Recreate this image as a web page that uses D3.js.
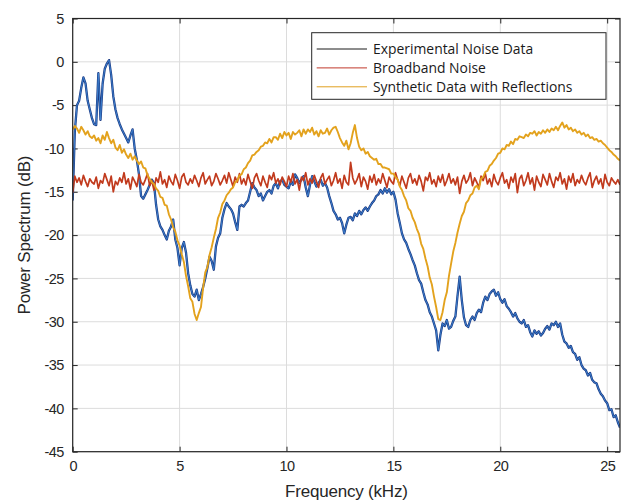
<!DOCTYPE html>
<html>
<head>
<meta charset="utf-8">
<script src="https://cdn.jsdelivr.net/npm/d3@7"></script>
<style>
  body { margin: 0; background: #fff; }
  .axis text { font-family: "Liberation Sans", Arial, sans-serif; font-size: 14.5px; fill: #262626; letter-spacing: -0.6px; }
  .axis line { stroke: #262626; }
  .grid line { stroke: #dcdcdc; stroke-width: 1; }
  .title { font-family: "Liberation Sans", Arial, sans-serif; font-size: 17px; fill: #262626; letter-spacing: -0.2px; }
  .legend text { font-family: "Open Sans", sans-serif; font-size: 13.9px; fill: #1a1a1a; }
</style>
</head>
<body>
<div id="wrapper"></div>
<script>
// spectra sampled every 0.1 kHz, values in dB
const freqStep = 0.1;

const experimental = [
  -16, -8, -5, -4.5, -3, -1.8, -2.5, -4.5, -5.5, -6.5,
  -7.2, -7.3, -1.3, -6.7, -2.5, -0.8, -0.2, 0.2, -1.5, -4,
  -5.5, -6.5, -7.2, -7.8, -8.3, -8.8, -9.3, -8.5, -7.8, -10,
  -11.3, -13, -15.5, -15.8, -15.3, -14.8, -14.2, -13.6, -14, -16.5,
  -18.2, -19, -19.4, -20, -20.5, -19.5, -19, -18.2, -20.5, -21.5,
  -23.5, -21.5, -20.8, -22, -24.4, -25.8, -26.8, -27.1, -26.3, -27.5,
  -26.8, -26, -25, -23.8, -22.5, -23, -24, -21.3, -20.3, -19.8,
  -18, -17, -16.3, -16.7, -17, -17.5, -18.5, -19.4, -16.7, -16.5,
  -16.7, -16.3, -16, -15, -14, -14.5, -14.8, -15.5, -15.2, -16,
  -15.5, -15, -14.8, -15.2, -14.3, -14, -14.6, -13.8, -13.6, -14.2,
  -14.4, -14.6, -13.8, -14.2, -13, -13.4, -14, -13.6, -13.2, -14.5,
  -15.5, -14.2, -13.2, -13.8, -14.4, -14, -13.6, -14.3, -14, -14.5,
  -15.5, -16.3, -17.2, -17.6, -18.2, -18, -18.6, -19.8, -18.8, -18,
  -17.9, -18.3, -17.5, -17.8, -17.2, -17.6, -17.1, -16.8, -17.2, -16.7,
  -16.3, -16, -15.5, -15.3, -14.8, -15.2, -14.6, -15.1, -14.7, -15.3,
  -15, -15.9, -17.5, -18.6, -19.8, -20.5, -20.9, -21.6, -22.2, -22.9,
  -23.5, -24.4, -25.2, -25.6, -26.6, -27.5, -28, -28.9, -29.4, -30.2,
  -31, -33.3, -31.5, -30.2, -30.5, -29.8, -30.8, -30.6, -29.9, -29.4,
  -27, -24.8, -27.5, -29.5, -30.4, -30.6, -29.8, -29.4, -29.8, -29,
  -28.6, -28.9, -27.8, -27.1, -27.5, -26.8, -26.5, -26.3, -27, -26.6,
  -27.4, -27.8, -27.4, -28.2, -28.5, -28.9, -29.4, -29, -29.6, -30,
  -30.2, -29.8, -30.6, -30.4, -31.2, -31.7, -31, -31.4, -31.1, -31.6,
  -31.3, -30.8, -30.5, -30.9, -30.2, -30.4, -30, -30.6, -30.2, -31.5,
  -32.3, -32.5, -33, -32.8, -33.5, -33.7, -34.4, -34.1, -35, -35.4,
  -35.6, -36.2, -35.9, -36.7, -37, -37.1, -37.8, -38.3, -38.6, -39.1,
  -39.4, -40.2, -40.1, -41, -40.8, -41.6, -42.2
];

const broadband = [
  -15.1, -13.2, -13.9, -13.4, -14.2, -13.1, -13.8, -14.4, -13.5, -13.9,
  -14.1, -13.3, -14.6, -13.7, -14.0, -12.9, -13.6, -14.3, -13.2, -15.0,
  -13.8, -14.2, -13.4, -13.9, -12.8, -14.1, -13.5, -14.7, -13.3, -13.8,
  -14.4, -13.0, -13.9, -14.2, -13.6, -12.9, -14.3, -13.7, -14.8, -13.4,
  -13.9, -12.7, -14.1, -13.6, -14.5, -13.2, -13.8, -14.2, -13.0, -13.7,
  -14.6, -13.3, -12.9, -13.9, -14.2, -13.5, -14.0, -13.1, -13.7, -14.4,
  -13.4, -12.8, -14.1, -13.6, -13.2, -14.3, -13.8, -12.9, -13.5, -14.2,
  -13.7, -13.1, -14.0, -12.8, -13.6, -14.4, -13.3, -13.9, -12.9, -14.1,
  -13.5, -14.2, -13.0, -13.8, -14.6, -13.4, -12.9, -13.7, -14.3, -13.2,
  -13.9, -14.5, -13.1, -13.6, -12.8, -14.0, -13.5, -14.2, -13.3, -13.8,
  -14.4, -13.2, -13.9, -12.9, -14.1, -13.6, -14.8, -13.3, -13.7, -12.8,
  -14.2, -13.5, -14.0, -13.1, -13.8, -14.5, -13.4, -12.9, -14.1, -13.6,
  -13.2, -14.3, -13.7, -12.8, -14.0, -13.5, -14.6, -13.1, -13.9, -14.2,
  -11.6, -13.4, -14.1, -13.6, -12.9, -14.4, -13.3, -13.8, -14.7, -13.2,
  -13.9, -13.0, -14.2, -13.5, -14.0, -12.9, -13.7, -14.5, -13.3, -13.8,
  -14.1, -12.8, -13.6, -14.3, -13.2, -13.9, -14.6, -13.4, -12.9, -14.0,
  -13.5, -14.2, -13.1, -13.8, -14.9, -13.3, -13.7, -12.8, -14.1, -13.6,
  -14.4, -13.2, -13.9, -13.0, -14.3, -13.7, -12.9, -14.0, -13.5, -14.2,
  -13.3, -15.2, -13.8, -13.1, -14.0, -13.6, -12.8, -14.3, -13.4, -13.9,
  -14.5, -13.2, -13.7, -12.9, -14.1, -13.5, -14.4, -13.0, -13.8, -14.2,
  -13.4, -12.8, -14.0, -13.6, -14.6, -13.3, -13.9, -12.9, -15.1, -13.5,
  -13.1, -14.3, -13.7, -12.8, -14.1, -13.4, -14.8, -13.2, -13.9, -14.4,
  -13.0, -13.6, -14.2, -12.9, -13.8, -14.5, -13.3, -13.7, -12.8, -14.1,
  -13.5, -14.7, -13.2, -13.9, -12.9, -14.3, -13.6, -14.0, -13.1, -13.8,
  -14.2, -13.4, -12.8, -14.5, -13.7, -13.2, -14.1, -13.5, -14.6, -13.0,
  -13.9, -14.3, -13.4, -13.8, -14.1, -13.6, -14.2
];

const synthetic = [
  -7.8, -7.4, -7.7, -8.2, -7.5, -7.9, -8.4, -8.0, -8.6, -8.8,
  -8.5, -9.1, -8.8, -9.4, -8.5, -9.0, -8.1, -8.8, -9.4, -9.0,
  -9.9, -10.2, -9.6, -10.5, -10.1, -10.7, -11.1, -10.6, -11.3, -10.9,
  -11.4, -11.8, -11.5, -12.2, -12.3, -13.1, -13.5, -13.9, -14.1, -14.6,
  -14.9, -15.6, -15.7, -16.5, -16.6, -17.6, -18.2, -19.1, -19.6, -20.6,
  -21.2, -22.2, -23.1, -24.7, -25.9, -27.3, -27.7, -29.1, -29.8, -29,
  -28.3, -26.1, -24.3, -23.7, -22.3, -21.4, -20.3, -19.3, -18.0, -17.4,
  -16.4, -16.0, -15.4, -15.1, -14.7, -14.5, -13.9, -13.7, -13.1, -13.0,
  -12.4, -12.2, -11.7, -11.4, -10.8, -10.7, -10.4, -10.2, -9.8, -9.7,
  -9.3, -9.4, -8.9, -9.3, -8.7, -8.7, -9.0, -8.3, -8.8, -8.1,
  -8.5, -8.2, -8.9, -8.1, -8.4, -8.2, -7.9, -8.6, -7.8, -8.3,
  -7.8, -8.1, -7.6, -8.4, -8, -8.6, -7.9, -8.3, -8.2, -7.7,
  -8.4, -7.9, -7.6, -7.5, -8.1, -8.8, -9.3, -9.7, -9.1, -10.1,
  -9.4, -8.2, -7.3, -8.8, -9.8, -10.2, -10, -10.6, -10.4, -10.9,
  -11.1, -11.3, -11.2, -11.8, -11.8, -12.2, -12.2, -12.3, -12.4, -12.9,
  -12.9, -13.3, -13.6, -14.4, -14.8, -15.5, -16.0, -16.9, -17.2, -18.0,
  -18.5, -19.3, -19.9, -21.0, -21.6, -22.7, -23.6, -24.9, -25.7, -27.1,
  -28.3, -29.7, -29.8, -28.9, -27.5, -26.6, -24.7, -23.3, -21.9, -20.9,
  -19.7, -18.7, -17.8, -17.3, -16.3, -16.0, -15.4, -15.2, -14.5, -14.3,
  -14.7, -13.5, -13.3, -12.7, -12.6, -12.0, -11.8, -11.4, -11.1, -10.6,
  -10.5, -10.0, -10.1, -9.6, -9.7, -9.2, -9.5, -8.9, -9.0, -8.6,
  -8.7, -8.8, -8.4, -8.6, -8.2, -8.3, -8, -8.5, -8.1, -8.3,
  -7.9, -8.2, -7.8, -8.1, -7.7, -7.9, -7.5, -7.9, -7.4, -7,
  -7.6, -7.3, -7.8, -7.6, -8, -7.8, -8.2, -8, -8.4, -8.2,
  -8.6, -8.4, -8.8, -8.7, -9, -8.9, -9.2, -9.1, -9.4, -9.6,
  -9.9, -10.2, -10.4, -10.7, -10.9, -11.2, -11.4
];

const seriesNames = ["Experimental Noise Data", "Broadband Noise", "Synthetic Data with Reflections"];
const xTicks = [0, 5, 10, 15, 20, 25];
const yTicks = [-45, -40, -35, -30, -25, -20, -15, -10, -5, 0, 5];

function drawChart() {

  const margin = {top: 18.5, right: 13, bottom: 52.3, left: 72.7};
  const width = 633 - margin.left - margin.right;
  const height = 504 - margin.top - margin.bottom;

  const frequency = experimental.map((d, i) => i * freqStep);

  const svg = d3.select("#wrapper").append("svg")
    .attr("width", 633)
    .attr("height", 504)
  .append("g")
    .attr("transform", `translate(${margin.left},${margin.top})`);

  const xScale = d3.scaleLinear()
    .domain([0, 25.6])
    .range([0, width]);

  const yScale = d3.scaleLinear()
    .domain([-45, 5])
    .range([height, 0]);

  // grid
  const grid = svg.append("g").attr("class", "grid");
  grid.selectAll("line.v").data(xTicks).join("line")
      .attr("class", "v")
      .attr("x1", d => xScale(d)).attr("x2", d => xScale(d))
      .attr("y1", 0).attr("y2", height);
  grid.selectAll("line.h").data(yTicks).join("line")
      .attr("class", "h")
      .attr("x1", 0).attr("x2", width)
      .attr("y1", d => yScale(d)).attr("y2", d => yScale(d));

  // axes with inward ticks on all four sides, plain hyphen minus
  const fmt = d => String(d);
  const xAxis = d3.axisBottom(xScale).tickValues(xTicks).tickSize(-5).tickPadding(9).tickFormat(fmt);
  const yAxis = d3.axisLeft(yScale).tickValues(yTicks).tickSize(-5).tickPadding(9).tickFormat(fmt);

  svg.append("g").attr("class", "x axis")
    .attr("transform", `translate(0,${height})`)
    .call(xAxis);
  svg.append("g").attr("class", "y axis").call(yAxis);
  svg.append("g").attr("class", "axis")
    .call(d3.axisTop(xScale).tickValues(xTicks).tickSize(-5).tickFormat(""));
  svg.append("g").attr("class", "axis")
    .attr("transform", `translate(${width},0)`)
    .call(d3.axisRight(yScale).tickValues(yTicks).tickSize(-5).tickFormat(""));
  svg.selectAll(".axis .domain").remove();

  const line = d3.line()
    .x((d, i) => xScale(frequency[i]))
    .y(d => yScale(d));

  svg.append("clipPath").attr("id", "plotclip")
    .append("rect").attr("width", width).attr("height", height);

  const plot = svg.append("g").attr("clip-path", "url(#plotclip)");

  plot.append("path").datum(experimental)
    .attr("d", line).attr("fill", "none")
    .attr("stroke", "#1c3c86").attr("stroke-width", 2.3)
    .attr("stroke-linejoin", "round");
  plot.append("path").datum(experimental)
    .attr("d", line).attr("fill", "none")
    .attr("stroke", "#3f86d4").attr("stroke-width", 0.9)
    .attr("stroke-linejoin", "round");

  plot.append("path").datum(broadband)
    .attr("d", line).attr("fill", "none")
    .attr("stroke", "#c13a1d").attr("stroke-width", 1.7)
    .attr("stroke-linejoin", "round");

  plot.append("path").datum(synthetic)
    .attr("d", line).attr("fill", "none")
    .attr("stroke", "#e3a21d").attr("stroke-width", 1.9)
    .attr("stroke-linejoin", "round");

  // box
  svg.append("rect")
    .attr("width", width).attr("height", height)
    .attr("fill", "none").attr("stroke", "#262626").attr("stroke-width", 1.2);

  // legend
  const legendColors = ["#1a1a1a", "#c0392b", "#e0a020"];
  const legend = svg.append("g").attr("class", "legend")
    .attr("transform", `translate(${311.7 - margin.left},${32.7 - margin.top})`);
  legend.append("rect")
    .attr("width", 294.3).attr("height", 66.6)
    .attr("fill", "#fff").attr("stroke", "#262626").attr("stroke-width", 1);
  const rows = legend.selectAll("g.row").data(seriesNames).join("g")
    .attr("class", "row")
    .attr("transform", (d, i) => `translate(0,${16.3 + i * 18.9})`);
  rows.append("line")
    .attr("x1", 5).attr("x2", 55.3)
    .attr("stroke", (d, i) => legendColors[i]).attr("stroke-width", 1);
  rows.append("text")
    .attr("x", 61.3).attr("dy", "0.35em")
    .text(d => d);

  // titles
  svg.append("text").attr("class", "title")
    .attr("x", width / 2).attr("y", height + 45)
    .attr("text-anchor", "middle")
    .text("Frequency (kHz)");
  svg.append("text").attr("class", "title")
    .attr("transform", `translate(${30 - margin.left},${height / 2}) rotate(-90)`)
    .attr("text-anchor", "middle")
    .text("Power Spectrum (dB)");
}
drawChart()
</script>
</body>
</html>
